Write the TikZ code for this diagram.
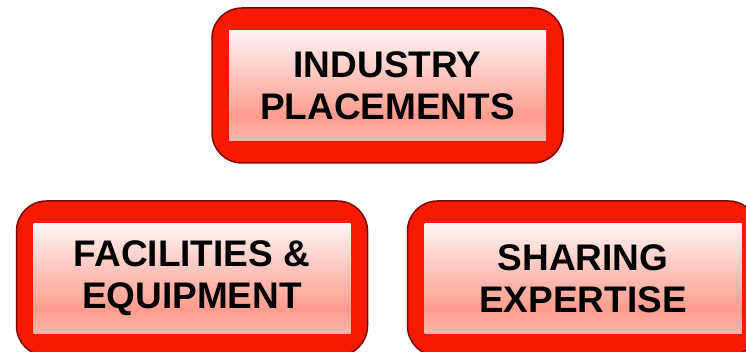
\documentclass[tikz,border=0pt]{standalone}
\usepackage{fontspec}
\setmainfont{Liberation Sans}
\definecolor{boxred}{HTML}{F81A00}
\definecolor{boxedge}{HTML}{7A0A00}
\definecolor{intop}{HTML}{FFF4F4}
\definecolor{inmid}{HTML}{FF9C8E}
\definecolor{inlow}{HTML}{FFB4AA}
\pgfdeclareverticalshading{innershade}{100bp}{color(0bp)=(inlow); color(25bp)=(inlow); color(36bp)=(inmid); color(75bp)=(intop); color(100bp)=(intop)}
\tikzset{
  outerbox/.style={draw=boxedge, line width=1.5pt, fill=boxred, rounded corners=30pt,
    minimum width=351pt, minimum height=155pt, inner sep=0pt},
  innerbox/.style={shade, shading=innershade, minimum width=317pt, minimum height=110pt,
    inner sep=0pt, align=center, font=\fontsize{37}{42}\selectfont\bfseries}
}
\begin{document}
\begin{tikzpicture}[x=1pt,y=1pt]
\useasboundingbox (0,0) rectangle (746,352);
\clip (0,0) rectangle (746,352);
% Top box
\node[outerbox] (ipout) at (387.5,266.5) {};
\node[innerbox] (ip) at (ipout) {INDUSTRY\\PLACEMENTS};
% Bottom boxes
\node[outerbox] (feout) at (192,73.5) {};
\node[innerbox] (fe) at (feout) {FACILITIES \&\\EQUIPMENT};
\node[outerbox] (seout) at (583,73.5) {};
\node[innerbox] (se) at (seout) {SHARING\\EXPERTISE};
\end{tikzpicture}
\end{document}
